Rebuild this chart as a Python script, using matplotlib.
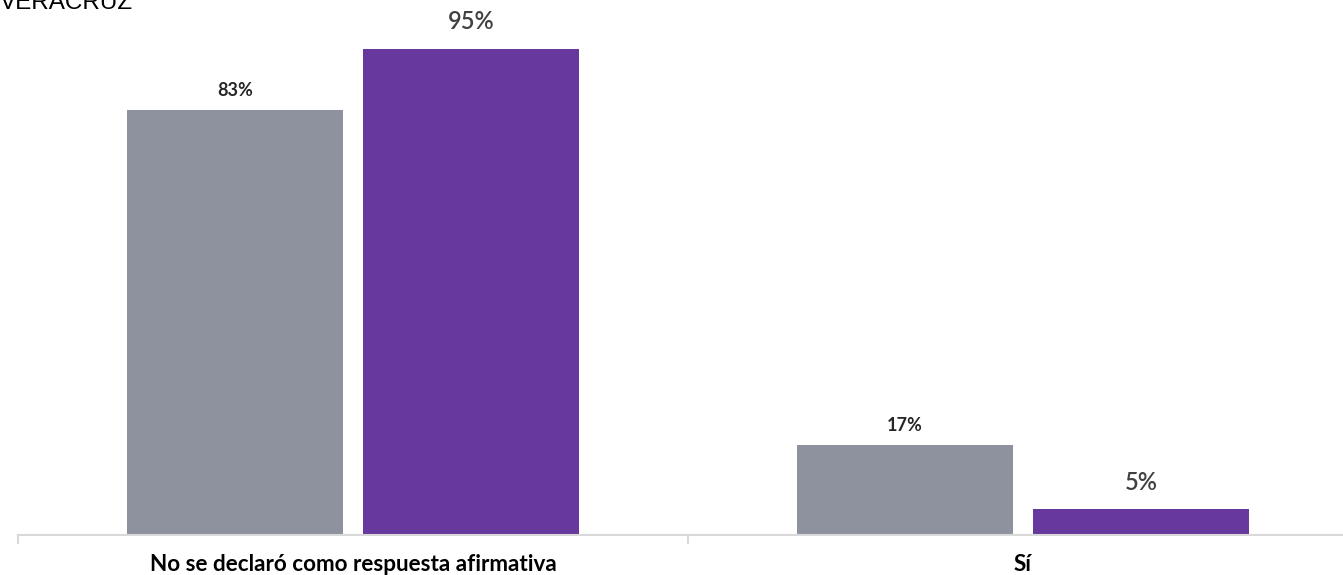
import matplotlib
matplotlib.use("Agg")
import matplotlib.pyplot as plt
import numpy as np

categories = ["No se declaró como respuesta afirmativa", "Sí"]
series_gray = [83, 17.6]
series_purple = [95, 5]
labels_gray = ["83%", "17%"]
labels_purple = ["95%", "5%"]
title = "VERACRUZ"

W, H = 1343, 575
fig = plt.figure(figsize=(W / 100, H / 100), dpi=100)
ax = fig.add_axes([18 / W, 40 / H, 1340 / W, (535 - 23) / H])

x = np.arange(len(categories))
bw = 0.322
off = 0.176
gray = "#8e929e"
purple = "#67389e"
b1 = ax.bar(x - off, series_gray, bw, color=gray, zorder=2)
b2 = ax.bar(x + off, series_purple, bw, color=purple, zorder=2)

for rect, lab in zip(b1, labels_gray):
    ax.annotate(lab, (rect.get_x() + rect.get_width() / 2, rect.get_height()),
                xytext=(0, 8), textcoords="offset points", ha="center", va="bottom",
                fontsize=13, fontweight=700, color="#262626",
                family=["Lato", "DejaVu Sans"])
for rect, lab in zip(b2, labels_purple):
    ax.annotate(lab, (rect.get_x() + rect.get_width() / 2, rect.get_height()),
                xytext=(0, 11), textcoords="offset points", ha="center", va="bottom",
                fontsize=17, fontweight=600, color="#404040",
                family=["Lato", "DejaVu Sans"])

ax.set_xlim(-0.5, len(categories) - 0.5)
ax.set_ylim(0, 100)
for s in ["top", "right", "left"]:
    ax.spines[s].set_visible(False)
ax.spines["bottom"].set_color("#d9d9d9")
ax.spines["bottom"].set_linewidth(1.5)
ax.set_yticks([])
ax.set_xticks(x)
ax.set_xticklabels(categories, fontsize=16.2, fontweight="bold", color="#000000",
                   family=["Lato", "DejaVu Sans"])
ax.tick_params(axis="x", length=0, pad=14)
for b in np.arange(-0.5, len(categories) + 0.5, 1.0):
    ax.plot([b, b], [0, -1.6], color="#d9d9d9", lw=1.5, clip_on=False, zorder=1)

fig.text(0, 1 + 8 / H, title, ha="left", va="top", fontsize=17.5,
         family=["Liberation Sans", "DejaVu Sans"], color="#000000")

fig.savefig("out.png", dpi=100)
